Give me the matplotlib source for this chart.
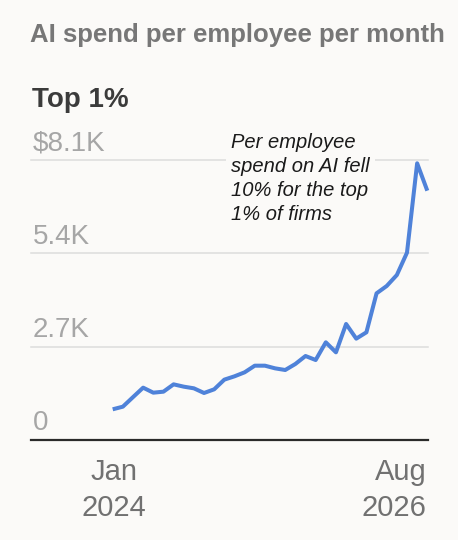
import numpy as np
import matplotlib
matplotlib.use('Agg')
import matplotlib.pyplot as plt
import matplotlib.transforms as mtransforms

# ---- data ----
months = list(range(32))  # monthly, Jan 2024 .. Aug 2026
spend = [888, 964, 1240, 1514, 1369, 1398, 1610, 1543, 1495, 1360, 1466, 1746,
         1842, 1958, 2150, 2150, 2073, 2025, 2199, 2430, 2314, 2826, 2536, 3356,
         2932, 3115, 4243, 4455, 4773, 5420, 8005, 7212]
y_ticks = [0, 2700, 5400, 8100]
y_tick_labels = ['0', '2.7K', '5.4K', '$8.1K']
x_tick_pos = [0, 31]
x_tick_labels = [('Jan', '2024'), ('Aug', '2026')]
title = 'AI spend per employee per month'
subtitle = 'Top 1%'
note = 'Per employee\nspend on AI fell\n10% for the top\n1% of firms'

# ---- style ----
plt.rcParams['font.family'] = ['Liberation Sans', 'DejaVu Sans']
bg = '#fbfaf8'
W, H = 458, 540

fig = plt.figure(figsize=(W / 100, H / 100), dpi=100, facecolor=bg)
ax = fig.add_axes([31 / W, 1 - 440 / H, (428 - 31) / W, (440 - 160) / H])
ax.set_facecolor(bg)
ax.set_xlim(-8.05, 31.07)
ax.set_ylim(0, 8100)
for s in ax.spines.values():
    s.set_visible(False)
ax.set_xticks([])
ax.set_yticks([])

for v in y_ticks[1:]:
    ax.axhline(v, color='#dcdcdc', lw=1.1, zorder=1, clip_on=False)
ax.axhline(0, color='#2a2a2a', lw=1.6, zorder=2, clip_on=False)

ax.plot(months, spend, color='#4f82d9', lw=2.9, solid_joinstyle='round',
        solid_capstyle='butt', zorder=3, clip_on=False)

# y labels above gridlines
ytrans = mtransforms.offset_copy(ax.get_yaxis_transform(), fig=fig,
                                 x=1.5, y=9.5, units='dots')
for v, lab in zip(y_ticks, y_tick_labels):
    ax.text(0, v, lab, transform=ytrans, ha='left', va='baseline',
            fontsize=20, color='#a6a6a6', zorder=4)

# x labels
xtrans = mtransforms.blended_transform_factory(ax.transData, fig.transFigure)
aligns = ['center', 'right']
offs = [1.5, -1]
for p, (l1, l2), ha, o in zip(x_tick_pos, x_tick_labels, aligns, offs):
    tr = mtransforms.offset_copy(xtrans, fig=fig, x=o, y=0, units='dots')
    ax.text(p, 1 - 480 / H, l1, transform=tr, ha=ha, va='baseline',
            fontsize=21, color='#717171')
    ax.text(p, 1 - 515.7 / H, l2, transform=tr, ha=ha, va='baseline',
            fontsize=21, color='#717171')

fig.text(30 / W, 1 - 42 / H, title, fontsize=18.5, fontweight='bold',
         color='#777777', va='baseline', ha='left')
fig.text(32 / W, 1 - 107 / H, subtitle, fontsize=20, fontweight='bold',
         color='#3b3b3b', va='baseline', ha='left')

# annotation (va='baseline' anchors the last line)
fig.text(231 / W, 1 - 219.8 / H, note, fontsize=14.5, style='italic',
         color='#1a1a1a', va='baseline', ha='left', linespacing=1.32,
         zorder=5,
         bbox=dict(boxstyle='square,pad=0.25', fc=bg, ec='none'))

fig.savefig('out.png', dpi=100, facecolor=bg)
